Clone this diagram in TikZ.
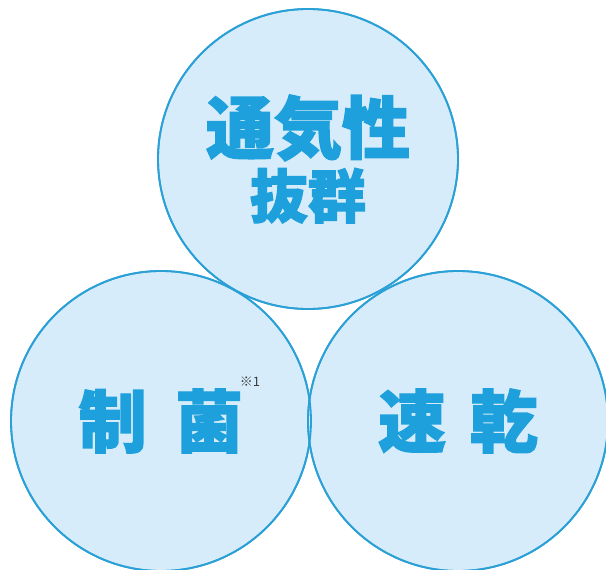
\documentclass[tikz,border=0pt]{standalone}
\usepackage{fontspec}
\usepackage{xcolor}
\usepackage{tikz}
\usetikzlibrary{positioning}
\newfontfamily\jpfont{Noto Sans CJK JP}[BoldFeatures={FakeBold=2}]
\definecolor{bubblefill}{RGB}{214, 236, 250}
\definecolor{ringblue}{RGB}{42, 160, 215}
\definecolor{textblue}{RGB}{30, 160, 221}
\definecolor{notegray}{RGB}{60, 60, 60}

\begin{document}
\begin{tikzpicture}[
    x=1pt, y=-1pt,
    bubble/.style={circle, fill=bubblefill, draw=ringblue, line width=1.8pt, minimum size=300pt, inner sep=0pt, align=center, text=textblue, font=\jpfont\bfseries}
]
    \useasboundingbox (0, 0) rectangle (606, 570);

    % Bubbles
    \node[bubble] (seikin) at (161, 421) {\fontsize{68}{68}\selectfont 制\hspace{0.42em}菌};
    \node[bubble] (sokkan) at (458, 421) {\fontsize{68}{68}\selectfont 速\hspace{0.35em}乾};
    \node[bubble] (tsuki) at (308, 159) {\fontsize{68}{68}\selectfont 通気性\\[6pt]\fontsize{58}{58}\selectfont 抜群};

    % Outlines over the overlaps
    \foreach \n in {seikin, sokkan, tsuki}
        \draw[ringblue, line width=1.8pt] (\n.center) circle[radius=150];

    % Footnote mark
    \node[font=\jpfont\fontsize{13}{13}\selectfont, text=notegray] (note) at (250, 382) {※1};
\end{tikzpicture}
\end{document}
